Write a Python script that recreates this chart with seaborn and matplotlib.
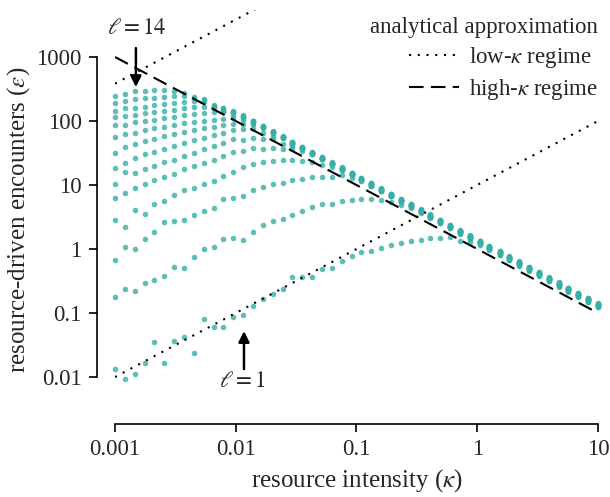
import numpy as np
import pandas as pd
import matplotlib
matplotlib.use('Agg')
import matplotlib.pyplot as plt
import seaborn as sns

# resource intensity grid (kappa)
kappa = [0.001, 0.00121, 0.00146, 0.00176, 0.00212, 0.00256, 0.00309, 0.00373, 0.0045, 0.00543,
         0.00655, 0.0079, 0.00954, 0.0115, 0.0139, 0.0168, 0.0202, 0.0244, 0.0295, 0.0356,
         0.0429, 0.0518, 0.0625, 0.0754, 0.091, 0.11, 0.133, 0.16, 0.193, 0.233,
         0.281, 0.339, 0.409, 0.494, 0.596, 0.72, 0.869, 1.05, 1.26, 1.53,
         1.84, 2.22, 2.68, 3.24, 3.91, 4.71, 5.69, 6.87, 8.29, 10.0]

# simulated resource-driven encounters, one list per range size l
eps_l1 = [0.0133, 0.0093, 0.0111, 0.0166, 0.0352, 0.0166, 0.0365, 0.0422, 0.0237, 0.0806,
          0.0604, 0.0604, 0.0866, 0.093, 0.129, 0.166, 0.199, 0.237, 0.359, 0.372,
          0.369, 0.492, 0.50, 0.656, 0.786, 0.887, 0.94, 1.03, 1.15, 1.25,
          1.33, 1.38, 1.50, 1.50, 1.55, 1.33, 1.30, 1.16, 0.965, 0.799,
          0.662, 0.549, 0.455, 0.377, 0.312, 0.259, 0.214, 0.178, 0.147, 0.122]
eps_l2 = [0.178, 0.237, 0.221, 0.291, 0.324, 0.383, 0.529, 0.505, 0.741, 0.99,
          1.07, 1.42, 1.47, 1.40, 1.82, 2.34, 2.71, 2.94, 3.36, 3.96,
          4.53, 4.99, 5.11, 5.62, 5.83, 5.98, 6.03, 5.83, 5.5, 4.9,
          4.45, 3.68, 3.05, 2.53, 2.10, 1.74, 1.44, 1.19, 0.99, 0.82,
          0.68, 0.56, 0.466, 0.386, 0.32, 0.265, 0.22, 0.182, 0.151, 0.125]
eps_l3 = [0.673, 1.06, 1.01, 1.45, 1.84, 2.64, 2.71, 2.87, 3.40, 3.93,
          4.42, 5.98, 6.2, 6.73, 8.26, 9.4, 10.4, 10.9, 12.0, 12.3,
          13.3, 13.2, 13.3, 14.2, 13.1, 11.7, 9.66, 8.00, 6.63, 5.49,
          4.55, 3.77, 3.13, 2.59, 2.15, 1.78, 1.47, 1.22, 1.01, 0.839,
          0.695, 0.576, 0.477, 0.395, 0.328, 0.271, 0.225, 0.186, 0.154, 0.128]
eps_l4 = [2.8, 2.2, 4.0, 3.5, 5.0, 5.7, 7.0, 8.3, 9.0, 10.4,
          11.6, 13.8, 16.1, 19.3, 21.0, 22.6, 23.5, 24.3, 24.6, 23.7,
          22.6, 20.5, 19.0, 17.2, 14.3, 11.8, 9.8, 8.13, 6.73, 5.58,
          4.62, 3.83, 3.17, 2.63, 2.18, 1.81, 1.50, 1.24, 1.03, 0.852,
          0.706, 0.585, 0.485, 0.402, 0.333, 0.276, 0.229, 0.189, 0.157, 0.13]
eps_l5 = [6.3, 7.6, 8.9, 10.5, 12.0, 13.5, 15.0, 17.5, 19.5, 22,
          24.5, 28, 32.4, 34.4, 37.4, 36.5, 38.3, 36.5, 36, 33.5,
          30.8, 25.5, 21.1, 17.5, 14.5, 12.0, 9.96, 8.25, 6.84, 5.67,
          4.69, 3.89, 3.22, 2.67, 2.21, 1.83, 1.52, 1.26, 1.04, 0.865,
          0.717, 0.594, 0.492, 0.408, 0.338, 0.28, 0.232, 0.192, 0.159, 0.132]
eps_l6 = [10.4, 16.1, 15.5, 18, 20, 22.5, 25, 28, 32, 36,
          40, 46, 52, 50, 54, 52, 52, 44, 41, 37.4,
          31.0, 25.7, 21.3, 17.6, 14.6, 12.1, 10.0, 8.31, 6.89, 5.71,
          4.73, 3.92, 3.25, 2.69, 2.23, 1.85, 1.53, 1.27, 1.05, 0.871,
          0.722, 0.598, 0.496, 0.411, 0.340, 0.282, 0.234, 0.194, 0.161, 0.133]
eps_l7 = [18.3, 22.3, 26, 30, 33, 37, 41, 45, 50, 55,
          60, 66, 72, 76, 75, 65, 59, 55.3, 45.8, 38.0,
          31.5, 26.1, 21.6, 17.9, 14.8, 12.3, 10.2, 8.44, 6.99, 5.79,
          4.80, 3.98, 3.30, 2.73, 2.26, 1.88, 1.55, 1.29, 1.07, 0.884,
          0.733, 0.607, 0.503, 0.417, 0.346, 0.286, 0.237, 0.197, 0.163, 0.135]
eps_l8 = [32, 39, 44, 48, 53, 58, 62, 67, 72, 77,
          82, 86, 89, 91, 86, 81.1, 67.2, 55.7, 46.1, 38.2,
          31.7, 26.3, 21.8, 18.0, 14.9, 12.4, 10.3, 8.50, 7.04, 5.84,
          4.84, 4.01, 3.32, 2.75, 2.28, 1.89, 1.57, 1.30, 1.08, 0.891,
          0.738, 0.612, 0.507, 0.42, 0.348, 0.288, 0.239, 0.198, 0.164, 0.136]
eps_l9 = [57, 62, 66, 72, 77, 82, 88, 92, 97, 101,
          104, 108, 110, 104, 94.3, 78.1, 64.7, 53.6, 44.4, 36.8,
          30.5, 25.3, 21.0, 17.4, 14.4, 11.9, 9.88, 8.19, 6.78, 5.62,
          4.66, 3.86, 3.20, 2.65, 2.20, 1.82, 1.51, 1.25, 1.04, 0.858,
          0.711, 0.589, 0.488, 0.405, 0.335, 0.278, 0.23, 0.191, 0.158, 0.131]
eps_l10 = [87, 87, 95, 100, 105, 110, 116, 122, 128, 133,
           138, 137, 126, 116, 99.3, 82.3, 68.2, 56.5, 46.8, 38.8,
           32.2, 26.6, 22.1, 18.3, 15.2, 12.6, 10.4, 8.63, 7.15, 5.92,
           4.91, 4.07, 3.37, 2.79, 2.31, 1.92, 1.59, 1.32, 1.09, 0.904,
           0.749, 0.621, 0.514, 0.426, 0.353, 0.293, 0.243, 0.201, 0.167, 0.138]
eps_l11 = [115, 121, 125, 132, 138, 144, 150, 157, 163, 168,
           160, 145, 139, 122, 101, 83.5, 69.2, 57.3, 47.5, 39.4,
           32.6, 27.0, 22.4, 18.6, 15.4, 12.7, 10.6, 8.75, 7.25, 6.01,
           4.98, 4.13, 3.42, 2.83, 2.35, 1.94, 1.61, 1.34, 1.11, 0.917,
           0.76, 0.63, 0.522, 0.432, 0.358, 0.297, 0.246, 0.204, 0.169, 0.14]
eps_l12 = [142, 161, 160, 167, 175, 182, 190, 198, 205, 195,
           165, 150, 140, 116, 96.4, 79.9, 66.2, 54.9, 45.5, 37.7,
           31.2, 25.9, 21.4, 17.8, 14.7, 12.2, 10.1, 8.38, 6.94, 5.75,
           4.77, 3.95, 3.27, 2.71, 2.25, 1.86, 1.54, 1.28, 1.06, 0.878,
           0.727, 0.603, 0.5, 0.414, 0.343, 0.284, 0.236, 0.195, 0.162, 0.134]
eps_l13 = [191, 205, 221, 225, 232, 238, 245, 250, 240, 221,
           175, 160, 144, 119, 98.6, 81.7, 67.7, 56.1, 46.5, 38.5,
           31.9, 26.5, 21.9, 18.2, 15.1, 12.5, 10.3, 8.56, 7.10, 5.88,
           4.87, 4.04, 3.35, 2.77, 2.30, 1.90, 1.58, 1.31, 1.08, 0.897,
           0.744, 0.616, 0.511, 0.423, 0.351, 0.291, 0.241, 0.199, 0.165, 0.137]
eps_l14 = [245, 264, 294, 297, 305, 305, 297, 271, 226, 213,
           171, 160, 138, 111, 96.5, 80.5, 67.3, 56.2, 43.7, 39.3,
           33.1, 27.4, 22.7, 18.8, 15.6, 12.9, 10.7, 8.88, 7.35, 6.09,
           5.05, 4.18, 3.47, 2.87, 2.38, 1.97, 1.63, 1.35, 1.12, 0.93,
           0.771, 0.639, 0.529, 0.439, 0.364, 0.301, 0.25, 0.207, 0.171, 0.142]

series = [eps_l1, eps_l2, eps_l3, eps_l4, eps_l5, eps_l6, eps_l7,
          eps_l8, eps_l9, eps_l10, eps_l11, eps_l12, eps_l13, eps_l14]

# analytical approximations (end points of straight lines in log-log)
kappa_line = [0.001, 10]
low_l1 = [0.01, 100]
low_l14 = [384.0, 384000.0]
kappa_l14 = [0.001, 1.0]
high = [1000, 0.1]

xticks = [0.001, 0.01, 0.1, 1, 10]
xtick_labels = ['0.001', '0.01', '0.1', '1', '10']
yticks = [0.01, 0.1, 1, 10, 100, 1000]
ytick_labels = ['0.01', '0.1', '1', '10', '100', '1000']

# long format table for seaborn
rows = []
for l, eps in enumerate(series, start=1):
    for k, e in zip(kappa, eps):
        rows.append({'kappa': k, 'eps': e, 'l': l})
df = pd.DataFrame(rows)

sns.set_style('ticks')
plt.rcParams['font.family'] = ['Liberation Serif', 'DejaVu Serif']
plt.rcParams['mathtext.fontset'] = 'stix'
fs = 16.5
fs_lab = 18

fig = plt.figure(figsize=(6.1, 4.97), dpi=100)
ax = fig.add_axes([0.1885, 0.183, 0.7918, 0.7976])

sns.scatterplot(data=df, x='kappa', y='eps', color='#37aea7', alpha=0.8,
                s=16, linewidth=0, legend=False, clip_on=False, ax=ax)

ax.plot(kappa_line, low_l1, color='k', lw=1.5, ls=(0, (1, 3.2)),
        label=r'low-$\kappa$ regime')
ax.plot(kappa_l14, low_l14, color='k', lw=1.5, ls=(0, (1, 3.2)))
ax.plot(kappa_line, high, color='k', lw=1.5, ls=(0, (7, 3.5)),
        label=r'high-$\kappa$ regime')

ax.set_xscale('log')
ax.set_yscale('log')
ax.set_xlim(0.001, 10)
ax.set_ylim(0.00352, 5495)
ax.set_xticks(xticks)
ax.set_xticklabels(xtick_labels)
ax.set_yticks(yticks)
ax.set_yticklabels(ytick_labels)
ax.minorticks_off()
ax.tick_params(labelsize=fs, length=6, width=1.2, color='k', pad=5)
for sp in ax.spines.values():
    sp.set_linewidth(1.2)
    sp.set_color('k')

ax.set_xlabel(r'resource intensity ($\kappa$)', fontsize=fs_lab, labelpad=5)
ax.set_ylabel(r'resource-driven encounters ($\varepsilon$)', fontsize=fs_lab)
ax.yaxis.set_label_coords(-0.172, 0.47)

# arrows marking the extreme range sizes
ax.annotate('', xy=(0.00149, 339), xytext=(0.00149, 1380),
            arrowprops=dict(arrowstyle='-|>', color='k', lw=1.8,
                            mutation_scale=16, shrinkA=0, shrinkB=0))
ax.text(0.00152, 2800, r'$\ell = 14$', ha='center', va='center', fontsize=fs)
ax.annotate('', xy=(0.0117, 0.0523), xytext=(0.0117, 0.0133),
            arrowprops=dict(arrowstyle='-|>', color='k', lw=1.8,
                            mutation_scale=16, shrinkA=0, shrinkB=0))
ax.text(0.0114, 0.0084, r'$\ell = 1$', ha='center', va='center', fontsize=fs)

leg = ax.legend(title='analytical approximation', loc='upper right',
                bbox_to_anchor=(1.018, 1.005), frameon=False, fontsize=fs,
                title_fontsize=fs, handlelength=2.2, handletextpad=0.4,
                labelspacing=0.3, borderaxespad=0, alignment='right')

sns.despine(ax=ax, offset=13, trim=True)

fig.savefig('out.png', dpi=100)
